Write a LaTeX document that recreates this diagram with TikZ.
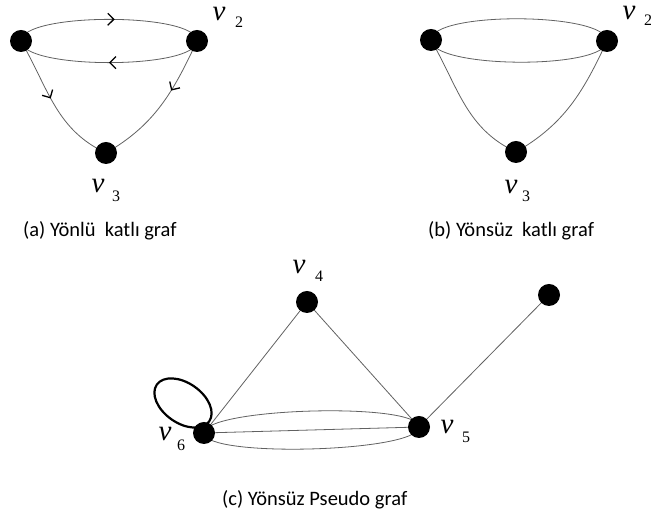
\documentclass[tikz,border=0pt]{standalone}
\usepackage{fontspec}
\setmainfont{Carlito}
\newfontfamily\labfont{Liberation Serif}
\usetikzlibrary{arrows.meta,decorations.markings,backgrounds,calc}
\tikzset{
  dot/.style={circle, fill=black, minimum size=22pt, inner sep=0pt},
  edgeline/.style={draw=black!62, line width=0.8pt},
  loopline/.style={draw=black, line width=2.2pt},
  vlab/.style={inner sep=0pt, font=\labfont\itshape\fontsize{29}{29}\selectfont},
  dlab/.style={inner sep=0pt, font=\labfont\fontsize{16}{16}\selectfont},
  caption/.style={inner sep=0pt, anchor=base west, font=\fontsize{20.5}{21}\selectfont},
  midarrow/.style={postaction={decorate}, decoration={markings,
     mark=at position #1 with {\arrow[black, line width=1.3pt]{Straight Barb[length=6pt,width=12pt]}}}}
}
\begin{document}
\begin{tikzpicture}[x=1pt,y=1pt]
\useasboundingbox (0,0) rectangle (651,518);
% (a)
\node[dot] (a1) at (21,477) {};
\node[dot] (a2) at (197,477) {};
\node[dot] (a3) at (106,365) {};
\node[vlab] (a2v) at (219,504) {v};
\node[dlab] (a2d) at (239,496) {2};
\node[vlab] (a3v) at (98,332) {v};
\node[dlab] (a3d) at (116,322) {3};
% (b)
\node[dot] (b1) at (431,478) {};
\node[dot] (b2) at (607,477) {};
\node[dot] (b3) at (516,366) {};
\node[vlab] (b2v) at (629,505) {v};
\node[dlab] (b2d) at (648,498) {2};
\node[vlab] (b3v) at (511,331) {v};
\node[dlab] (b3d) at (526,322) {3};
% (c)
\node[dot] (c4) at (307,216) {};
\node[dot] (c5) at (419,91) {};
\node[dot] (c6) at (204,85) {};
\node[dot] (c7) at (549,223) {};
\node[vlab] (c4v) at (299,251) {v};
\node[dlab] (c4d) at (319,242) {4};
\node[vlab] (c5v) at (447,91) {v};
\node[dlab] (c5d) at (466,81) {5};
\node[vlab] (c6v) at (165,84) {v};
\node[dlab] (c6d) at (181,73) {6};
\coordinate (lc) at ($(c6)+(-21,30)$);
% captions
\node[caption] (capa) at (23,281) {(a) Yönlü\ \ katlı graf};
\node[caption] (capb) at (428,281) {(b) Yönsüz\ \ katlı graf};
\node[caption] (capc) at (222,12) {(c) Yönsüz Pseudo graf};
\begin{scope}[on background layer]
  % (a)
  \draw[edgeline, midarrow=0.53] (a1.center) to[out=90,in=90,looseness=0.42] (a2.center);
  \draw[edgeline, midarrow=0.5] (a2.center) to[out=-90,in=-90,looseness=0.42] (a1.center);
  \draw[edgeline, midarrow=0.45] (a1.center) to[out=-60,in=155] (a3.center);
  \draw[edgeline, midarrow=0.38] (a2.center) to[out=-115,in=30] (a3.center);
  % (b)
  \draw[edgeline] (b1.center) to[out=90,in=90,looseness=0.42] (b2.center);
  \draw[edgeline] (b2.center) to[out=-90,in=-90,looseness=0.42] (b1.center);
  \draw[edgeline] (b1.center) to[out=-60,in=155] (b3.center);
  \draw[edgeline] (b2.center) to[out=-115,in=30] (b3.center);
  % (c)
  \draw[edgeline] (c6.center) -- (c4.center);
  \draw[edgeline] (c4.center) -- (c5.center);
  \draw[edgeline] (c5.center) -- (c7.center);
  \draw[edgeline] (c6.center) -- (c5.center);
  \draw[edgeline] (c6.center) to[out=90,in=90,looseness=0.30] (c5.center);
  \draw[edgeline] (c6.center) to[out=-90,in=-90,looseness=0.30] (c5.center);
  \draw[loopline, rotate around={-35:(lc)}] (lc) ellipse[x radius=32, y radius=20];
\end{scope}
\end{tikzpicture}
\end{document}
